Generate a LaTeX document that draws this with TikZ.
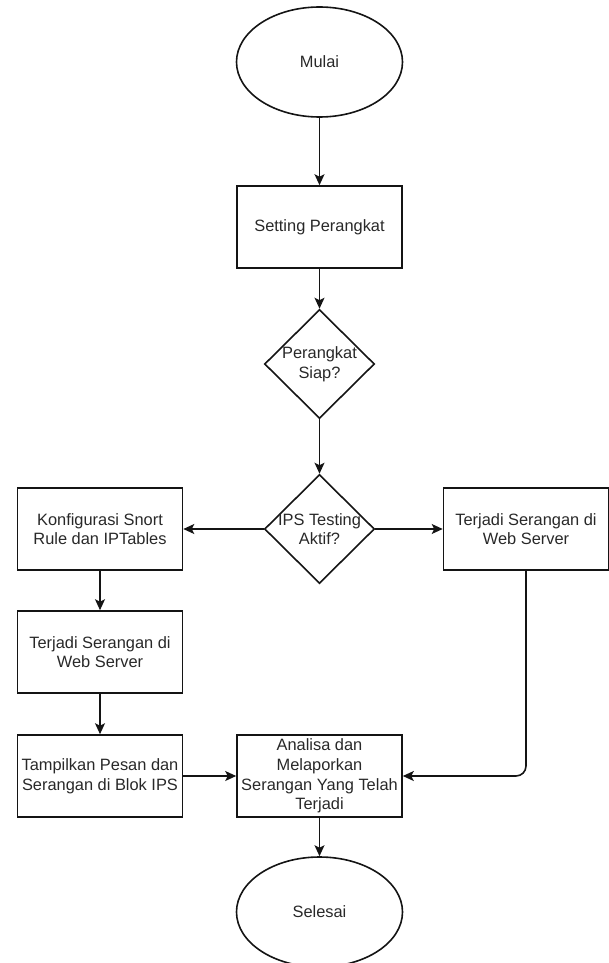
\documentclass[tikz,border=0pt]{standalone}
\usepackage{fontspec}
\setmainfont{Liberation Sans}
\usetikzlibrary{shapes.geometric,arrows.meta}
\definecolor{txtc}{RGB}{40,40,40}
\definecolor{linec}{RGB}{20,20,20}
\begin{document}
\begin{tikzpicture}[x=1pt,y=1pt,
  every node/.style={font=\fontsize{16.4}{19.7}\selectfont, text=txtc},
  box/.style={draw=linec, line width=1.6pt, rectangle, minimum width=165, minimum height=82, inner sep=2pt, align=center},
  oval/.style={draw=linec, line width=1.6pt, ellipse, minimum width=166, minimum height=110, inner sep=0pt},
  dia/.style={draw=linec, line width=1.6pt, diamond, minimum width=110, minimum height=109, inner sep=0pt},
  conn/.style={draw=linec, line width=1.6pt, -{Stealth[length=11pt,width=10pt,inset=2.5pt]}}]
\useasboundingbox (0,0) rectangle (608,-963);
\node[oval] (start) at (319.5,-62) {Mulai};
\node[box] (setting) at (319.5,-227) {Setting Perangkat};
\node[dia, label={[align=center, font=\fontsize{16.4}{19.7}\selectfont, text=txtc]center:Perangkat\\Siap?}] (d1) at (319.5,-364) {};
\node[dia, label={[align=center, font=\fontsize{16.4}{19.7}\selectfont, text=txtc]center:IPS Testing\\Aktif?}] (d2) at (319.5,-529) {};
\node[box] (konf) at (100,-529) {Konfigurasi Snort\\Rule dan IPTables};
\node[box] (serR) at (526,-529) {Terjadi Serangan di\\Web Server};
\node[box] (serL) at (100,-652) {Terjadi Serangan di\\Web Server};
\node[box] (tamp) at (100,-776) {Tampilkan Pesan dan\\Serangan di Blok IPS};
\node[box] (anal) at (319.5,-776) {Analisa dan\\Melaporkan\\Serangan Yang Telah\\Terjadi};
\node[oval] (end) at (319.5,-912) {Selesai};
\draw[conn] (start) -- (setting);
\draw[conn] (setting) -- (d1);
\draw[conn] (d1) -- (d2);
\draw[conn] (d2.west) -- (konf.east);
\draw[conn] (d2.east) -- (serR.west);
\draw[conn] (konf) -- (serL);
\draw[conn] (serL) -- (tamp);
\draw[conn] (tamp.east) -- (anal.west);
\draw[conn, rounded corners=10pt] (serR.south) |- (anal.east);
\draw[conn] (anal) -- (end);
\end{tikzpicture}
\end{document}
